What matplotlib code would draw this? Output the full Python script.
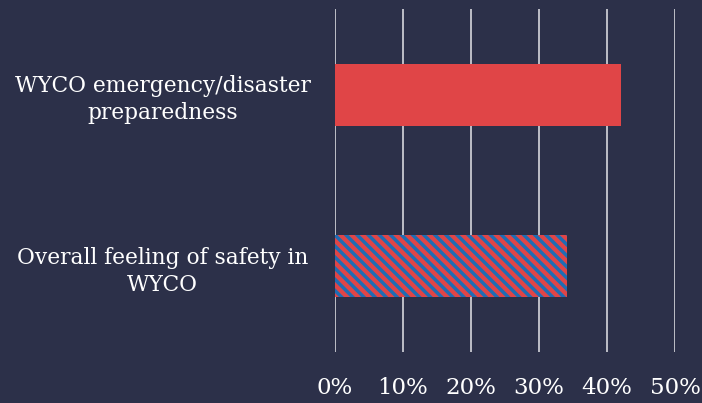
import matplotlib.pyplot as plt
import numpy as np

categories = ["WYCO emergency/disaster\npreparedness", "Overall feeling of safety in\nWYCO"]
values = [0.421, 0.341]
hatches = ["", "\\\\\\"]
xticks = [0, 0.1, 0.2, 0.3, 0.4, 0.5]
xtick_labels = ["0%", "10%", "20%", "30%", "40%", "50%"]

bg = "#2c3049"
red = "#e04547"
blue = "#1e6db4"
grid_col = "#c9c9d1"

plt.rcParams['font.family'] = ['DejaVu Serif']
plt.rcParams['hatch.linewidth'] = 2.5

fig = plt.figure(figsize=(7.02, 4.03), dpi=100, facecolor=bg)
ax = fig.add_axes([335 / 702, 1 - 352 / 403, 340 / 702, 343 / 403])
ax.set_facecolor(bg)

y = np.arange(len(categories))
for i in range(len(categories)):
    ax.barh(y[i], values[i], height=0.36, color=red, edgecolor=blue,
            linewidth=0, hatch=hatches[i], zorder=3)

ax.set_xlim(0, 0.5)
ax.set_ylim(1.5, -0.5)
ax.set_xticks(xticks, xtick_labels)
ax.xaxis.grid(True, color=grid_col, linewidth=1.3, zorder=0)
ax.tick_params(axis='x', length=0, pad=18, labelsize=16.5, colors="white")
ax.set_yticks(y, categories)
ax.tick_params(axis='y', length=0, pad=124, labelsize=15.7, colors="white")
for lab in ax.get_yticklabels():
    lab.set_horizontalalignment('center')
    lab.set_multialignment('center')
    lab.set_linespacing(1.3)

for s in ax.spines.values():
    s.set_visible(False)

fig.savefig("out.png", dpi=100, facecolor=bg)
